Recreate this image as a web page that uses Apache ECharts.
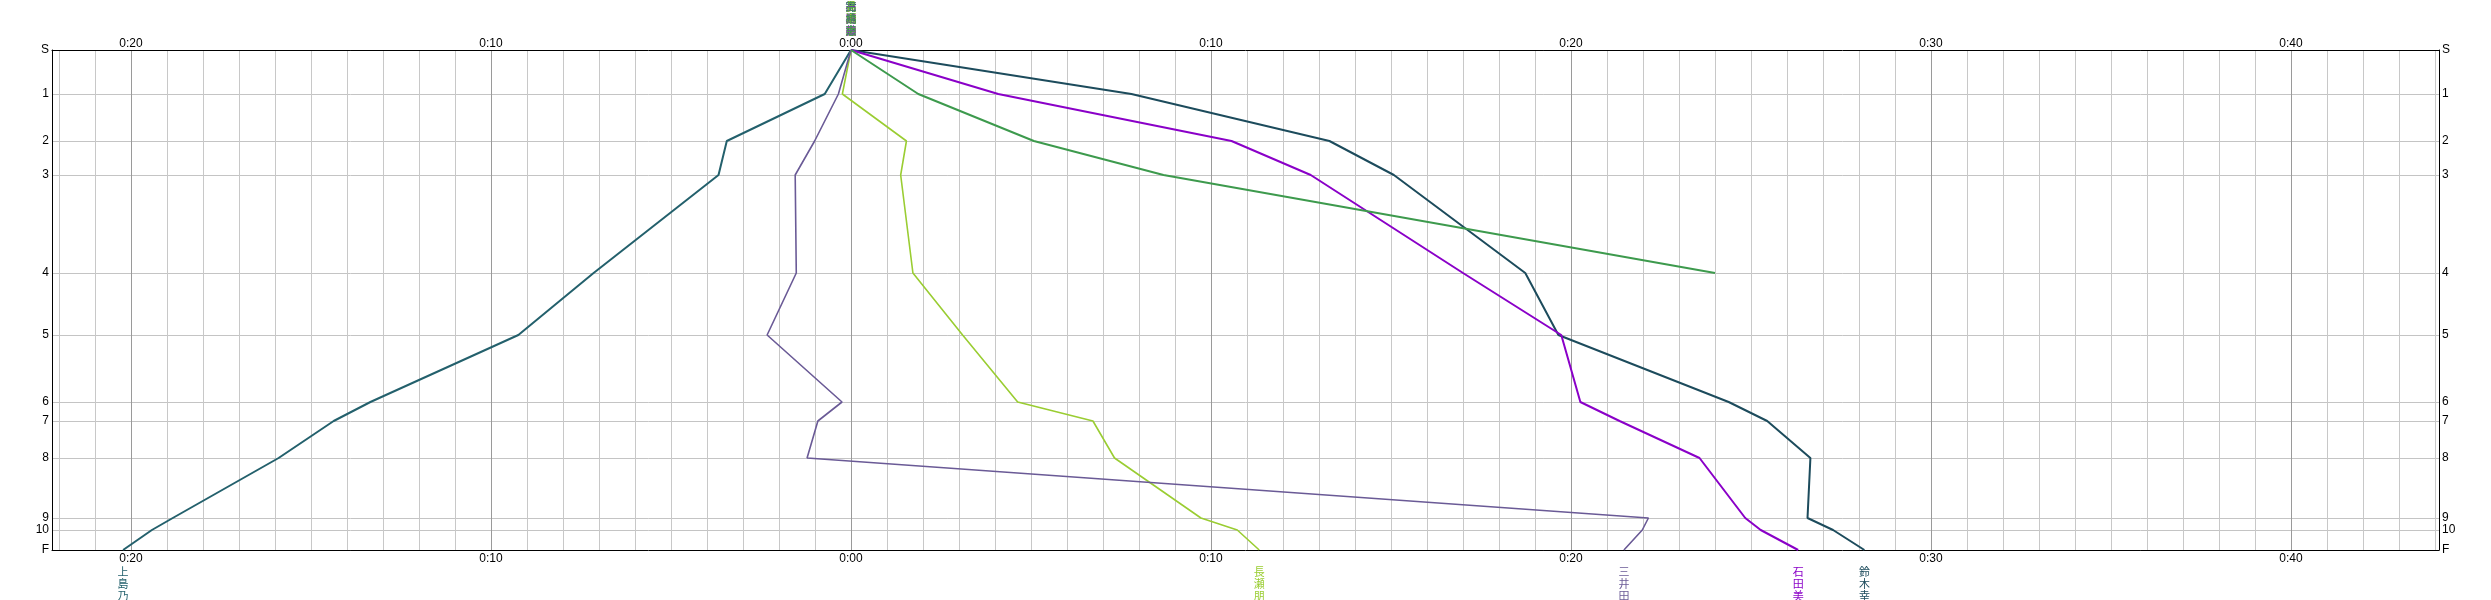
<!DOCTYPE html>
<html><head><meta charset="utf-8">
<script src="https://cdn.jsdelivr.net/npm/echarts@6/dist/echarts.min.js"></script>
<style>html,body{margin:0;padding:0;background:#fff}#c{width:2491px;height:600px}</style>
</head><body><div id="c"></div>
<script>
// Stations (controls) and their relative vertical positions (course progress)
const stations = ['S','1','2','3','4','5','6','7','8','9','10','F'];
const stationPos = [0, 44, 91, 125, 223, 285, 352, 371, 408, 468, 480, 500];
// Axis tick labels (minutes)
const majorTicks = [-20, -10, 0, 10, 20, 30, 40];
// Runner names
const runnerNames = ['上島乃', '鈴木幸', '石田美', '長瀬朋', '三井田', '高橋恵'];
// Time difference to reference at each station (minutes)
const kamijima = [0, -0.73, -3.45, -3.68, -7.15, -9.24, -13.35, -14.37, -15.90, -18.84, -19.42, -20.22];
const suzuki   = [0, 7.79, 13.29, 15.08, 18.73, 19.65, 24.38, 25.45, 26.65, 26.57, 27.28, 28.15];
const ishida   = [0, 4.09, 10.57, 12.77, 17.00, 19.73, 20.26, 21.35, 23.57, 24.84, 25.27, 26.31];
const nagase   = [0, -0.24, 1.54, 1.38, 1.72, 3.10, 4.63, 6.72, 7.32, 9.72, 10.73, 11.34];
const miida    = [0, -0.35, -1.01, -1.55, -1.52, -2.33, -0.25, -0.92, -1.22, 22.15, 21.98, 21.47];
const takahashi = [0, 1.87, 5.08, 8.68, 24.00]; // did not finish

const runnerData = [kamijima, suzuki, ishida, nagase, miida, takahashi];
const runnerColors = ['#23606c', '#1c4b5c', '#8a00c8', '#9acd32', '#6a5a96', '#3d9a4d'];
const runnerWidths = [2, 2, 2, 1.6, 1.6, 2];

const fontLat = '"Liberation Sans", Arial, sans-serif';
const fontJP = '"Noto Sans CJK JP", sans-serif';
const fmtTime = v => '0:' + String(Math.abs(v)).padStart(2, '0');
const vertical = s => s.split('').join('\n');

const series = runnerData.map((vals, i) => {
  const finished = vals.length === stations.length;
  const data = vals.map((v, k) => {
    const item = { value: [v, stationPos[k]] };
    const nameLabel = {
      show: true, formatter: vertical(runnerNames[i]), color: runnerColors[i],
      fontFamily: fontJP, fontSize: 11, lineHeight: 12, align: 'center'
    };
    if (k === 0) item.label = Object.assign({ position: 'top', distance: 13 }, nameLabel);
    if (finished && k === vals.length - 1) item.label = Object.assign({ position: 'bottom', distance: 16 }, nameLabel);
    return item;
  });
  return {
    type: 'line', name: runnerNames[i], xAxisIndex: 0, yAxisIndex: 0,
    data, symbol: 'circle', symbolSize: 0, showSymbol: true, showAllSymbol: true,
    lineStyle: { color: runnerColors[i], width: runnerWidths[i] },
    itemStyle: { color: runnerColors[i] },
    label: { show: false }, emphasis: { disabled: true }, z: 3
  };
});

const interior = stationPos.slice(1, -1);
const frameLine = { show: true, onZero: false, lineStyle: { color: '#000', width: 1 } };

const option = {
  animation: false,
  backgroundColor: '#ffffff',
  grid: [
    { left: 59, top: 50, width: 2376, height: 500, show: false },
    { left: 52, top: 50, width: 2387, height: 500, show: false }
  ],
  xAxis: [
    { gridIndex: 0, type: 'value', min: -22, max: 44, interval: 1, position: 'bottom',
      axisLine: { show: false }, axisTick: { show: false }, axisLabel: { show: false },
      splitLine: { show: true, lineStyle: { color: '#c8c8c8', width: 1 } } },
    { gridIndex: 0, type: 'value', min: -22, max: 44, position: 'bottom',
      axisLine: { show: false },
      axisTick: { show: false, customValues: majorTicks },
      axisLabel: { show: true, customValues: majorTicks, formatter: fmtTime, margin: 3,
        color: '#000', fontSize: 12, fontFamily: fontLat },
      splitLine: { show: true, lineStyle: { color: '#9a9a9a', width: 1 } } },
    { gridIndex: 0, type: 'value', min: -22, max: 44, position: 'top',
      axisLine: { show: false },
      axisTick: { show: false, customValues: majorTicks },
      axisLabel: { show: true, customValues: majorTicks, formatter: fmtTime, margin: 0,
        color: '#000', fontSize: 12, fontFamily: fontLat },
      splitLine: { show: false } },
    { gridIndex: 1, type: 'value', min: 0, max: 1, position: 'bottom',
      axisLine: frameLine, axisTick: { show: false }, axisLabel: { show: false }, splitLine: { show: false } },
    { gridIndex: 1, type: 'value', min: 0, max: 1, position: 'top',
      axisLine: frameLine, axisTick: { show: false }, axisLabel: { show: false }, splitLine: { show: false } }
  ],
  yAxis: [
    { gridIndex: 0, type: 'value', min: 0, max: 500, inverse: true, show: false },
    { gridIndex: 1, type: 'value', min: 0, max: 500, inverse: true, position: 'left',
      axisLine: frameLine,
      axisTick: { show: false, customValues: interior },
      axisLabel: { show: true, customValues: stationPos, margin: 3, color: '#000', fontSize: 12,
        fontFamily: fontLat, formatter: v => stations[stationPos.indexOf(v)] },
      splitLine: { show: true, lineStyle: { color: '#c4c4c4', width: 1 } } },
    { gridIndex: 1, type: 'value', min: 0, max: 500, inverse: true, position: 'right',
      axisLine: frameLine,
      axisTick: { show: false, customValues: interior },
      axisLabel: { show: true, customValues: stationPos, margin: 3, color: '#000', fontSize: 12,
        fontFamily: fontLat, formatter: v => stations[stationPos.indexOf(v)] },
      splitLine: { show: false } }
  ],
  series
};

const chart = echarts.init(document.getElementById('c'), null, { renderer: 'canvas' });
chart.setOption(option);
</script>
</body></html>
